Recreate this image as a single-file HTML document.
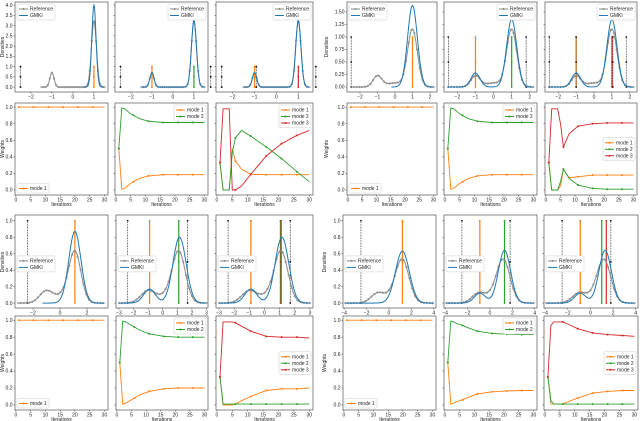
<!DOCTYPE html>
<html><head><meta charset="utf-8">
<style>
html,body{margin:0;padding:0;background:#fff;}
svg{display:block;font-family:"Liberation Sans",sans-serif;}
</style></head>
<body>
<svg id="fig" width="640" height="421" viewBox="0 0 640 421" xmlns="http://www.w3.org/2000/svg"></svg>
<script>
// ---------- DATA ----------
const wIters = [1,2,3,4,5,6,8,11,16,21,26,30];
const modeNames = ["mode 1","mode 2","mode 3"];
const modeColors = ["#ff7f0e","#2ca02c","#d62728"];
// weights (one array per mode per panel)
const q1p1Weights = [[1,1,1,1,1,1,1,1,1,1,1,1]];
const q1p2Weights = [[0.5,0.01,0.02,0.05,0.08,0.1,0.14,0.17,0.185,0.185,0.185,0.185],
                     [0.5,0.99,0.98,0.95,0.92,0.9,0.86,0.83,0.815,0.815,0.815,0.815]];
const q1p3Weights = [[0.33,0,0,0,0.5,0.35,0.25,0.19,0.185,0.185,0.185,0.185],
                     [0.33,0,0,0,0.45,0.63,0.72,0.65,0.52,0.38,0.22,0.1],
                     [0.33,0.98,0.98,0.98,0,0,0.05,0.19,0.41,0.56,0.66,0.72]];
const q2p1Weights = [[1,1,1,1,1,1,1,1,1,1,1,1]];
const q2p2Weights = [[0.5,0.01,0.02,0.05,0.08,0.1,0.14,0.17,0.185,0.185,0.185,0.185],
                     [0.5,0.99,0.98,0.95,0.92,0.9,0.86,0.83,0.815,0.815,0.815,0.815]];
const q2p3Weights = [[0.33,0,0,0,0.05,0.25,0.15,0.16,0.18,0.18,0.18,0.18],
                     [0.33,0,0,0,0.1,0.25,0.14,0.06,0.02,0.01,0.01,0.01],
                     [0.33,0.98,0.98,0.98,0.8,0.52,0.68,0.77,0.8,0.81,0.81,0.81]];
const q3p1Weights = [[1,1,1,1,1,1,1,1,1,1,1,1]];
const q3p2Weights = [[0.5,0.01,0.02,0.04,0.06,0.08,0.12,0.16,0.19,0.2,0.2,0.2],
                     [0.5,0.99,0.98,0.96,0.94,0.92,0.88,0.84,0.81,0.8,0.8,0.8]];
const q3p3Weights = [[0.33,0,0,0,0,0.01,0.05,0.1,0.17,0.19,0.19,0.2],
                     [0.33,0.01,0.01,0.01,0.01,0.01,0.01,0.01,0.01,0.01,0.01,0.01],
                     [0.33,0.98,0.98,0.98,0.98,0.97,0.93,0.87,0.81,0.8,0.8,0.79]];
const q4p1Weights = [[1,1,1,1,1,1,1,1,1,1,1,1]];
const q4p2Weights = [[0.5,0.01,0.02,0.04,0.05,0.06,0.09,0.13,0.155,0.165,0.17,0.17],
                     [0.5,0.99,0.98,0.96,0.95,0.94,0.91,0.87,0.845,0.835,0.83,0.83]];
const q4p3Weights = [[0.33,0.01,0.01,0.01,0.01,0.01,0.04,0.08,0.14,0.16,0.17,0.17],
                     [0.33,0.05,0.01,0.01,0.01,0.01,0.01,0.01,0.01,0.01,0.01,0.01],
                     [0.33,0.94,0.98,0.98,0.98,0.98,0.95,0.9,0.85,0.83,0.82,0.81]];
// density peaks: centers, heights, widths
const q1RefMeans=[-1,1], q1RefHeights=[0.7,3.2], q1RefStds=[0.1,0.12];
const q1Gmm1Means=[1], q1Gmm1Heights=[4.0], q1Gmm1Stds=[0.1];
const q1Gmm2Means=[-1,1], q1Gmm2Heights=[0.7,3.25], q1Gmm2Stds=[0.1,0.12];
const q2RefMeans=[-1,0,1], q2RefHeights=[0.22,0.08,1.15], q2RefStds=[0.25,0.5,0.28];
const q2Gmm1Means=[1], q2Gmm1Heights=[1.63], q2Gmm1Stds=[0.28];
const q2Gmm2Means=[-1,1], q2Gmm2Heights=[0.28,1.35], q2Gmm2Stds=[0.25,0.28];
const q3RefMeans=[-1,0.2,1.1], q3RefHeights=[0.15,0.08,0.62], q3RefStds=[0.5,0.5,0.45];
const q3Gmm1Means=[1.1], q3Gmm1Heights=[0.87], q3Gmm1Stds=[0.45];
const q3Gmm2Means=[-0.9,1.15], q3Gmm2Heights=[0.17,0.8], q3Gmm2Stds=[0.4,0.45];
const q4RefMeans=[-1,0.2,1.2], q4RefHeights=[0.12,0.06,0.52], q4RefStds=[0.6,0.6,0.6];
const q4Gmm1Means=[1.2], q4Gmm1Heights=[0.63], q4Gmm1Stds=[0.62];
const q4Gmm2Means=[-0.9,1.3], q4Gmm2Heights=[0.12,0.64], q4Gmm2Stds=[0.5,0.55];
// stems: positions and colours
const q1p1StemX=[-2.5,1], q1p1StemC=["k","#ff7f0e"];
const q1p2StemX=[-2.5,-1,1,1.8], q1p2StemC=["k","#ff7f0e","#2ca02c","k"];
const q1p3StemX=[-2.5,-1,-0.92,1,1.8], q1p3StemC=["k","#ff7f0e","k","#d62728","k"];
const q2p1StemX=[-2.5,1], q2p1StemC=["k","#ff7f0e"];
const q2p2StemX=[-2.5,-1,1,1.8], q2p2StemC=["k","#ff7f0e","#2ca02c","k"];
const q2p3StemX=[-2.5,-1,-1,1,1.05,1.8], q2p3StemC=["k","#ff7f0e","k","#d62728","k","k"];
const q3p1StemX=[-2.4,1.1], q3p1StemC=["k","#ff7f0e"];
const q3p2StemX=[-2.4,-0.9,1.1,1.7], q3p2StemC=["k","#ff7f0e","#2ca02c","k"];
const q3p3StemX=[-2.4,-0.9,-0.9,1.05,1.1,1.7], q3p3StemC=["k","k","#ff7f0e","#2ca02c","#d62728","k"];
const q4p1StemX=[-2.5,1.2], q4p1StemC=["k","#ff7f0e"];
const q4p2StemX=[-2.5,-0.9,1.3,1.8], q4p2StemC=["k","#ff7f0e","#2ca02c","k"];
const q4p3StemX=[-2.5,-0.9,-0.9,1.0,1.4,1.8], q4p3StemC=["k","k","#ff7f0e","#2ca02c","#d62728","k"];
const q1XTicks=[-2,-1,0,1], q1YTicks=[0,0.5,1,1.5,2,2.5,3,3.5,4];
const q2XTicks=[-2,-1,0,1,2], q2YTicks=[0,0.25,0.5,0.75,1,1.25,1.5];
const q3XTicks1=[-2,0,2], q3XTicks=[-3,-2,-1,0,1,2,3], q3YTicks=[0,0.2,0.4,0.6,0.8,1];
const q4XTicks=[-4,-2,0,2,4];
const wXTicks=[0,5,10,15,20,25,30], wYTicks=[0,0.2,0.4,0.6,0.8,1];

// ---------- DRAW ----------
const NS="http://www.w3.org/2000/svg", svg=document.getElementById('fig');
function el(tag,attrs,parent){const e=document.createElementNS(NS,tag);for(const k in attrs)e.setAttribute(k,attrs[k]);(parent||svg).appendChild(e);return e;}
function txt(s,x,y,anchor,parent,size){const t=el('text',{x:x,y:y,'font-size':size||5,'text-anchor':anchor||'middle',fill:'#222'},parent);t.textContent=s;return t;}
function mk(l,t,r,b,xd,yd){return {l,t,r,b,sx:v=>l+(v-xd[0])/(xd[1]-xd[0])*(r-l),sy:v=>b-(v-yd[0])/(yd[1]-yd[0])*(b-t)};}
function frame(g,a){el('rect',{x:a.l,y:a.t,width:a.r-a.l,height:a.b-a.t,fill:'none',stroke:'#555','stroke-width':0.7},g);}
function xticks(g,a,ticks,labels){ticks.forEach(v=>{const x=a.sx(v);el('line',{x1:x,x2:x,y1:a.b,y2:a.b+1.5,stroke:'#333','stroke-width':0.5},g);if(labels)txt(v<0?'\u2212'+(-v):String(v),x,a.b+6.5,'middle',g);});}
function yticks(g,a,ticks,fmt,labels){ticks.forEach(v=>{const y=a.sy(v);el('line',{x1:a.l-1.5,x2:a.l,y1:y,y2:y,stroke:'#333','stroke-width':0.5},g);if(labels)txt(v.toFixed(fmt),a.l-2.5,y+1.7,'end',g);});}
function dens(x,m,h,s){let v=0;for(let i=0;i<m.length;i++)v+=h[i]*Math.exp(-0.5*((x-m[i])/s[i])**2);return v;}
function legend(g,x,y,items){const w=items.w||42,h=items.length*6.5+3;
  const r=el('rect',{x:x,y:y,width:w,height:h,fill:'#fff',stroke:'#ccc','stroke-width':0.5,rx:1},g);
  
  items.forEach((it,i)=>{const yy=y+5+i*6.5;const gg=el('g',{},g);
    
    el('line',{x1:x+2,x2:x+11,y1:yy,y2:yy,stroke:it.c,'stroke-width':1},gg);
    if(it.m)el('circle',{cx:x+6.5,cy:yy,r:1,fill:it.c},gg);
    txt(it.t,x+13,yy+1.7,'start',gg);});}
function densityPanel(name,a,ref,gmm,refRange,gmmRange,stemX,stemC,xt,xtl,yt,yfmt,ylab,legPos){
  const g=el('g',{});
  frame(g,a);xticks(g,a,xt,true);yticks(g,a,yt,yfmt,ylab);
  stemX.forEach((sx,i)=>{const c=stemC[i]==='k'?'#111':stemC[i];const x=a.sx(sx);
    const s=el('line',{x1:x,x2:x,y1:a.sy(0),y2:a.sy(1),stroke:c,'stroke-width':stemC[i]==='k'?0.7:1.2,'stroke-dasharray':stemC[i]==='k'?'0.8,0.8':''},g);
    
    [0,0.5,1].forEach(v=>el('circle',{cx:x,cy:a.sy(v),r:0.9,fill:c},g));});
  let p='';for(let x=refRange[0];x<=refRange[1]+1e-9;x+=0.02){p+=(p?'L':'M')+a.sx(x).toFixed(1)+','+a.sy(dens(x,ref[0],ref[1],ref[2])).toFixed(1);}
  const rl=el('path',{d:p,fill:'none',stroke:'#888','stroke-width':1},g);
  const step=(refRange[1]-refRange[0])/30;
  for(let x=refRange[0];x<=refRange[1]+1e-9;x+=step)el('circle',{cx:a.sx(x),cy:a.sy(dens(x,ref[0],ref[1],ref[2])),r:0.9,fill:'none',stroke:'#888','stroke-width':0.5},g);
  p='';for(let x=gmmRange[0];x<=gmmRange[1]+1e-9;x+=0.02){p+=(p?'L':'M')+a.sx(x).toFixed(1)+','+a.sy(dens(x,gmm[0],gmm[1],gmm[2])).toFixed(1);}
  const gl=el('path',{d:p,fill:'none',stroke:'#1f77b4','stroke-width':1},g);
  const items=[{t:'Reference',c:'#888',m:1},{t:'GMKI',c:'#1f77b4'}];items.w=38;
  const lx=legPos==='right'?a.r-40:a.l+2;const ly=legPos==='mid'?a.t+(a.b-a.t)*0.44:a.t+2;
  legend(g,lx,ly,items);
}
function weightPanel(name,a,W,ylab,legPos){
  const g=el('g',{});
  frame(g,a);xticks(g,a,wXTicks,true);yticks(g,a,wYTicks,1,ylab);
  W.forEach((vals,m)=>{const c=modeColors[m];let p='';
    wIters.forEach((it,i)=>{p+=(i?'L':'M')+a.sx(it).toFixed(1)+','+a.sy(vals[i]).toFixed(1);});
    const l=el('path',{d:p,fill:'none',stroke:c,'stroke-width':0.9},g);
    wIters.forEach((it,i)=>{if((it-1)%5===0)el('circle',{cx:a.sx(it),cy:a.sy(vals[i]),r:1,fill:c},g);});});
  const items=W.map((v,m)=>({t:modeNames[m],c:modeColors[m],m:1}));items.w=32;
  const h=items.length*6.5+3;
  let lx,ly;if(legPos==='ll'){lx=a.l+2;ly=a.b-h-2;}else if(legPos==='ur'){lx=a.r-34;ly=a.t+2;}else{lx=a.r-34;ly=a.t+(a.b-a.t)*0.5-h/2;}
  legend(g,lx,ly,items);
  txt('Iterations',(a.l+a.r)/2,a.b+11,'middle',g);
}
function ylabel(s,x,y){const t=txt(s,x,y,'middle',svg);t.setAttribute('transform','rotate(-90 '+x+' '+y+')');}

const wY=[-0.06,1.05], wX=[-0.3,31.2];
const q1Cols=[[15,108],[115,208],[216,313]];
const q1X=[-2.76,1.67], q1Yd=[-0.24,4.15];
densityPanel('q1-density-1',mk(q1Cols[0][0],2,q1Cols[0][1],92,q1X,q1Yd),[q1RefMeans,q1RefHeights,q1RefStds],[q1Gmm1Means,q1Gmm1Heights,q1Gmm1Stds],[-1.5,1.5],[0.5,1.5],q1p1StemX,q1p1StemC,q1XTicks,1,q1YTicks,1,true,'left');
densityPanel('q1-density-2',mk(q1Cols[1][0],2,q1Cols[1][1],92,q1X,q1Yd),[q1RefMeans,q1RefHeights,q1RefStds],[q1Gmm2Means,q1Gmm2Heights,q1Gmm2Stds],[-1.5,1.5],[-1.5,1.5],q1p2StemX,q1p2StemC,q1XTicks,1,q1YTicks,1,false,'right');
densityPanel('q1-density-3',mk(q1Cols[2][0],2,q1Cols[2][1],92,q1X,q1Yd),[q1RefMeans,q1RefHeights,q1RefStds],[q1Gmm2Means,q1Gmm2Heights,q1Gmm2Stds],[-1.5,1.5],[-1.5,1.5],q1p3StemX,q1p3StemC,q1XTicks,1,q1YTicks,1,false,'right');
weightPanel('q1-weights-1',mk(15,103,108,195,wX,wY),q1p1Weights,true,'ll');
weightPanel('q1-weights-2',mk(115,103,208,195,wX,wY),q1p2Weights,false,'ur');
weightPanel('q1-weights-3',mk(216,103,313,195,wX,wY),q1p3Weights,false,'ur');
ylabel('Densities',4,47);ylabel('Weights',4,149);
const q2X=[-2.74,2.4], q2Yd=[-0.1,1.7];
densityPanel('q2-density-1',mk(347,2,437,92,q2X,q2Yd),[q2RefMeans,q2RefHeights,q2RefStds],[q2Gmm1Means,q2Gmm1Heights,q2Gmm1Stds],[-2.5,2.2],[-0.2,2.2],q2p1StemX,q2p1StemC,q2XTicks,1,q2YTicks,2,true,'left');
densityPanel('q2-density-2',mk(444,2,537,92,q2X,q2Yd),[q2RefMeans,q2RefHeights,q2RefStds],[q2Gmm2Means,q2Gmm2Heights,q2Gmm2Stds],[-2.5,2.2],[-2.5,2.2],q2p2StemX,q2p2StemC,q2XTicks,1,q2YTicks,2,false,'right');
densityPanel('q2-density-3',mk(545,2,637,92,q2X,q2Yd),[q2RefMeans,q2RefHeights,q2RefStds],[q2Gmm2Means,q2Gmm2Heights,q2Gmm2Stds],[-2.5,2.2],[-2.5,2.2],q2p3StemX,q2p3StemC,q2XTicks,1,q2YTicks,2,false,'right');
weightPanel('q2-weights-1',mk(347,103,437,195,wX,wY),q2p1Weights,true,'ll');
weightPanel('q2-weights-2',mk(444,103,537,195,wX,wY),q2p2Weights,false,'ur');
weightPanel('q2-weights-3',mk(545,103,637,195,wX,wY),q2p3Weights,false,'mr');
ylabel('Densities',328,47);ylabel('Weights',328,149);
const dY=[-0.06,1.07];
densityPanel('q3-density-1',mk(15,215,108,308,[-3.33,3.55],dY),[q3RefMeans,q3RefHeights,q3RefStds],[q3Gmm1Means,q3Gmm1Heights,q3Gmm1Stds],[-3.1,3.2],[-1.3,3.3],q3p1StemX,q3p1StemC,q3XTicks1,1,q3YTicks,1,true,'mid');
densityPanel('q3-density-2',mk(116,215,208,308,[-3.2,3.1],dY),[q3RefMeans,q3RefHeights,q3RefStds],[q3Gmm2Means,q3Gmm2Heights,q3Gmm2Stds],[-3.0,3.0],[-3.0,3.0],q3p2StemX,q3p2StemC,q3XTicks,1,q3YTicks,1,false,'mid');
densityPanel('q3-density-3',mk(216,215,313,308,[-3.2,3.2],dY),[q3RefMeans,q3RefHeights,q3RefStds],[q3Gmm2Means,q3Gmm2Heights,q3Gmm2Stds],[-3.0,3.0],[-3.0,3.0],q3p3StemX,q3p3StemC,q3XTicks,1,q3YTicks,1,false,'mid');
weightPanel('q3-weights-1',mk(15,316,108,410,wX,wY),q3p1Weights,true,'ll');
weightPanel('q3-weights-2',mk(116,316,208,410,wX,wY),q3p2Weights,false,'ur');
weightPanel('q3-weights-3',mk(216,316,313,410,wX,wY),q3p3Weights,false,'mr');
ylabel('Densities',4,262);ylabel('Weights',4,363);
const q4X=[-4.1,4.2];
densityPanel('q4-density-1',mk(343,215,436,308,q4X,dY),[q4RefMeans,q4RefHeights,q4RefStds],[q4Gmm1Means,q4Gmm1Heights,q4Gmm1Stds],[-3.9,3.9],[-3.9,4.0],q4p1StemX,q4p1StemC,q4XTicks,1,q3YTicks,1,true,'mid');
densityPanel('q4-density-2',mk(444,215,537,308,q4X,dY),[q4RefMeans,q4RefHeights,q4RefStds],[q4Gmm2Means,q4Gmm2Heights,q4Gmm2Stds],[-3.9,3.9],[-3.9,3.9],q4p2StemX,q4p2StemC,q4XTicks,1,q3YTicks,1,false,'mid');
densityPanel('q4-density-3',mk(544,215,638,308,q4X,dY),[q4RefMeans,q4RefHeights,q4RefStds],[q4Gmm2Means,q4Gmm2Heights,q4Gmm2Stds],[-3.9,3.9],[-3.9,3.9],q4p3StemX,q4p3StemC,q4XTicks,1,q3YTicks,1,false,'mid');
weightPanel('q4-weights-1',mk(343,316,436,410,wX,wY),q4p1Weights,true,'ll');
weightPanel('q4-weights-2',mk(444,316,537,410,wX,wY),q4p2Weights,false,'ur');
weightPanel('q4-weights-3',mk(544,316,638,410,wX,wY),q4p3Weights,false,'mr');
ylabel('Densities',326,262);ylabel('Weights',326,363);
</script>
</body></html>
